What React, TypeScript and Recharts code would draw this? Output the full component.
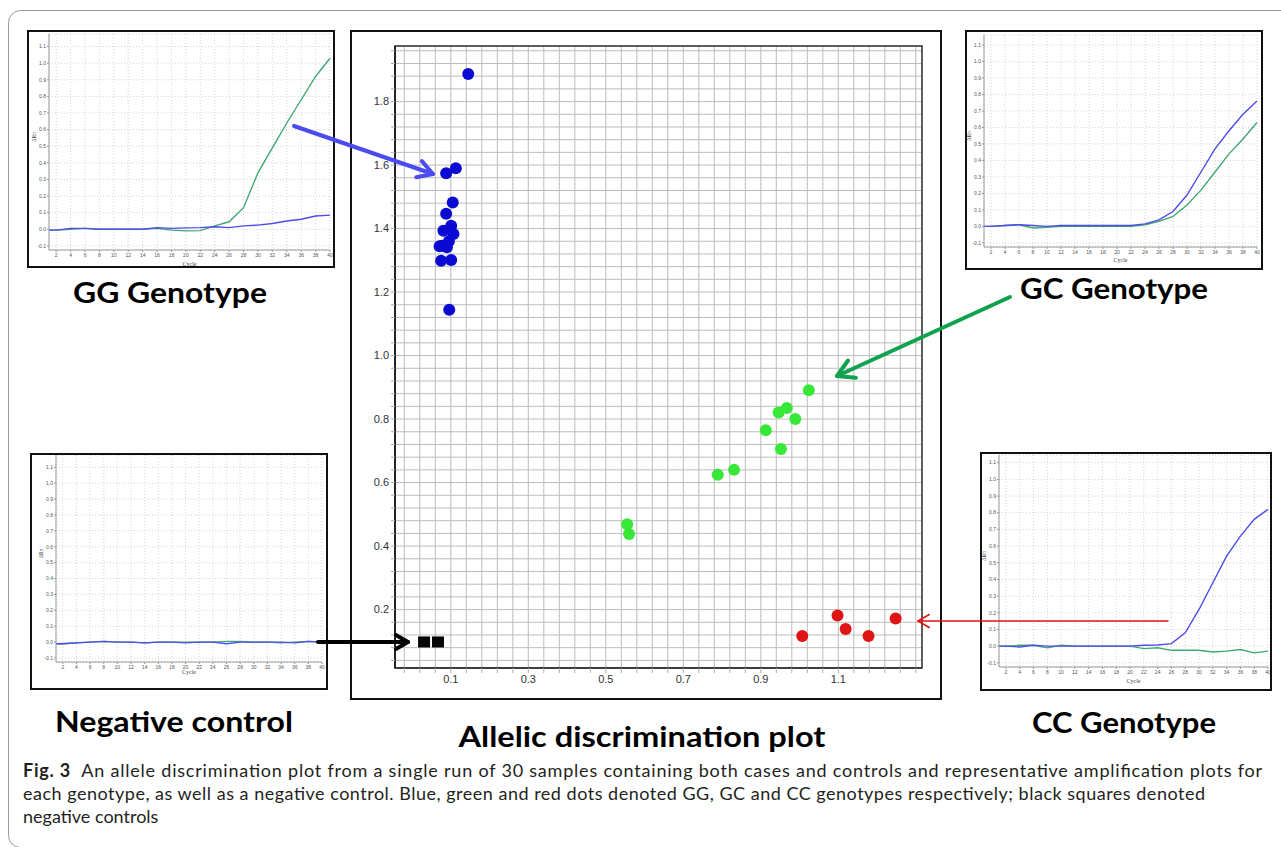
import React from "react";
import {
  ScatterChart,
  Scatter,
  XAxis,
  YAxis,
  CartesianGrid,
  ReferenceArea,
  LineChart,
  Line,
} from "recharts";

// allelic discrimination plot (allele X on x, allele Y on y)
const ggPoints = [
  { x: 0.145, y: 1.887 },
  { x: 0.113, y: 1.59 },
  { x: 0.088, y: 1.574 },
  { x: 0.105, y: 1.482 },
  { x: 0.088, y: 1.447 },
  { x: 0.101, y: 1.409 },
  { x: 0.081, y: 1.393 },
  { x: 0.107, y: 1.383 },
  { x: 0.077, y: 1.346 },
  { x: 0.09, y: 1.341 },
  { x: 0.071, y: 1.344 },
  { x: 0.095, y: 1.36 },
  { x: 0.075, y: 1.299 },
  { x: 0.101, y: 1.301 },
  { x: 0.096, y: 1.144 },
];

const gcPoints = [
  { x: 0.555, y: 0.469 },
  { x: 0.56, y: 0.438 },
  { x: 0.789, y: 0.625 },
  { x: 0.831, y: 0.64 },
  { x: 0.913, y: 0.765 },
  { x: 0.952, y: 0.706 },
  { x: 0.946, y: 0.821 },
  { x: 0.967, y: 0.835 },
  { x: 0.989, y: 0.8 },
  { x: 1.024, y: 0.891 },
];

const ccPoints = [
  { x: 1.007, y: 0.117 },
  { x: 1.098, y: 0.181 },
  { x: 1.119, y: 0.139 },
  { x: 1.178, y: 0.117 },
  { x: 1.248, y: 0.172 },
];

const ntcPoints = [
  { x: 0.031, y: 0.098 },
  { x: 0.067, y: 0.098 },
];

const xLabelTicks = [0.1, 0.3, 0.5, 0.7, 0.9, 1.1];
const yLabelTicks = [0.2, 0.4, 0.6, 0.8, 1.0, 1.2, 1.4, 1.6, 1.8];

// amplification plots (delta Rn per cycle)
const cycles = [1, 2, 4, 6, 8, 10, 12, 14, 16, 18, 20, 22, 24, 26, 28, 30, 32, 34, 36, 38, 40];
const cycleTicks = [2, 4, 6, 8, 10, 12, 14, 16, 18, 20, 22, 24, 26, 28, 30, 32, 34, 36, 38, 40];
const rnTicks = [-0.1, 0, 0.1, 0.2, 0.3, 0.4, 0.5, 0.6, 0.7, 0.8, 0.9, 1.0, 1.1];

const ggBlue = [-0.005, -0.005, 0.005, 0.005, 0, 0, 0, 0, 0.01, 0.005, 0.008, 0.01, 0.015, 0.01, 0.02, 0.025, 0.035, 0.05, 0.06, 0.08, 0.085];
const ggGreen = [-0.005, -0.005, 0, 0.005, 0, 0, 0, 0, 0.005, -0.005, -0.01, -0.008, 0.02, 0.045, 0.13, 0.34, 0.49, 0.64, 0.78, 0.92, 1.03];

const gcBlue = [0, 0, 0.005, 0.01, 0.005, 0, 0.005, 0.005, 0.005, 0.005, 0.005, 0.005, 0.015, 0.04, 0.09, 0.19, 0.33, 0.47, 0.58, 0.68, 0.76];
const gcGreen = [0, 0, 0.005, 0.01, -0.01, -0.005, 0, 0, 0, 0, 0, 0, 0.01, 0.03, 0.06, 0.13, 0.22, 0.33, 0.44, 0.53, 0.63];

const ntcBlue = [-0.01, -0.01, -0.005, 0, 0.005, 0, 0, -0.005, 0, 0, -0.005, 0, 0, -0.01, 0, 0, 0, 0, -0.005, 0.005, 0];
const ntcGreen = [-0.01, -0.01, -0.005, 0, 0.005, 0, 0, -0.005, 0, 0, 0, 0, 0, 0.005, 0.005, 0, 0, -0.005, 0, 0.005, 0];

const ccBlue = [0, 0, -0.005, 0.005, 0, 0, 0, 0, 0, 0, 0, 0.005, 0.007, 0.015, 0.08, 0.22, 0.38, 0.54, 0.66, 0.76, 0.82];
const ccGreen = [0, 0, 0.005, 0.005, -0.01, 0.005, 0, 0, 0, 0, 0, -0.015, -0.01, -0.025, -0.025, -0.025, -0.035, -0.03, -0.02, -0.04, -0.03];

// grid every 0.04 on both axes
const xGrid = Array.from({ length: 34 }, (_, i) => Math.round((-0.02 + 0.04 * i) * 1000) / 1000);
const yGrid = Array.from({ length: 49 }, (_, i) => Math.round((0.04 + 0.04 * i) * 1000) / 1000);

const isLabel = (list: number[], v: number) => list.some((t) => Math.abs(t - v) < 1e-6);

const dot = (color: string) => (p: any) => <circle cx={p.cx} cy={p.cy} r={6} fill={color} />;
const square = (p: any) => <rect x={p.cx - 6} y={p.cy - 5.5} width={12} height={11} fill="#050505" />;

function DiscriminationPlot() {
  return (
    <div
      style={{
        position: "absolute",
        left: 350,
        top: 30,
        width: 588,
        height: 666,
        border: "2px solid #111",
        background: "#fff",
      }}
    >
      <ScatterChart width={588} height={666} margin={{ top: 14, right: 18, bottom: 8, left: 8 }}>
        <CartesianGrid stroke="#bdbdbd" strokeWidth={1} />
        <XAxis
          type="number"
          dataKey="x"
          domain={[-0.044, 1.316]}
          ticks={xGrid}
          interval={0}
          allowDataOverflow
          height={22}
          tickFormatter={(v: number) => (isLabel(xLabelTicks, v) ? v.toFixed(1) : "")}
          tick={{ fontSize: 11, fill: "#333", fontFamily: "Liberation Sans" }}
          tickSize={5}
          tickLine={{ stroke: "#aaa" }}
          axisLine={{ stroke: "#333", strokeWidth: 1.5 }}
        />
        <YAxis
          type="number"
          dataKey="y"
          domain={[0.016, 1.975]}
          ticks={yGrid}
          interval={0}
          allowDataOverflow
          width={35}
          tickFormatter={(v: number) => (isLabel(yLabelTicks, v) ? v.toFixed(1) : "")}
          tick={{ fontSize: 11, fill: "#333", fontFamily: "Liberation Sans" }}
          tickSize={4}
          tickLine={{ stroke: "#aaa" }}
          axisLine={{ stroke: "#222", strokeWidth: 2 }}
        />
        <ReferenceArea x1={-0.044} x2={1.316} y1={0.016} y2={1.975} fill="none" stroke="#333" strokeWidth={1.5} />
        <Scatter data={ggPoints} shape={dot("#0a0ad2")} isAnimationActive={false} />
        <Scatter data={gcPoints} shape={dot("#38e838")} isAnimationActive={false} />
        <Scatter data={ccPoints} shape={dot("#e01414")} isAnimationActive={false} />
        <Scatter data={ntcPoints} shape={square} isAnimationActive={false} />
      </ScatterChart>
    </div>
  );
}

interface AmpProps {
  box: { x: number; y: number; w: number; h: number };
  l: number;
  r: number;
  t: number;
  b: number;
  yTop: number;
  cycleGap: number;
  blue: number[];
  green: number[];
}

function AmpPlot({ box, l, r, t, b, yTop, cycleGap, blue, green }: AmpProps) {
  const cw = box.w - 4;
  const ch = box.h - 4;
  const ox = box.x + 2;
  const oy = box.y + 2;
  const yW = 16;
  const xH = oy + ch - b - 1;
  const margin = { left: l - ox - yW, right: ox + cw - r, top: t - oy, bottom: 1 };
  const data = cycles.map((c, i) => ({ cycle: c, blue: blue[i], green: green[i] }));
  const tick = { fontSize: 5, fill: "#555", fontFamily: "Liberation Sans" };
  return (
    <div
      style={{
        position: "absolute",
        left: box.x,
        top: box.y,
        width: cw,
        height: ch,
        border: "2px solid #111",
        background: "#fff",
      }}
    >
      <LineChart width={cw} height={ch} data={data} margin={margin}>
        <CartesianGrid stroke="#d4d4d4" strokeDasharray="1 2" />
        <XAxis
          dataKey="cycle"
          type="number"
          domain={[1, 40]}
          ticks={cycleTicks}
          interval={0}
          height={xH}
          tick={tick}
          tickSize={2}
          tickMargin={1}
          tickLine={{ stroke: "#999" }}
          axisLine={{ stroke: "#999" }}
          label={{ value: "Cycle", position: "insideBottom", offset: xH - cycleGap - 3, fontSize: 6, fill: "#444" }}
        />
        <YAxis
          type="number"
          domain={[-0.125, yTop]}
          ticks={rnTicks}
          interval={0}
          width={yW}
          tick={tick}
          tickSize={2}
          tickMargin={1}
          tickFormatter={(v: number) => v.toFixed(1)}
          tickLine={{ stroke: "#999" }}
          axisLine={{ stroke: "#999" }}
          label={{ value: "ΔRn", angle: -90, position: "insideLeft", offset: 1, fontSize: 5.5, fill: "#444" }}
        />
        <Line type="linear" dataKey="green" stroke="#3fa874" strokeWidth={1.4} dot={false} isAnimationActive={false} />
        <Line type="linear" dataKey="blue" stroke="#4c4ce8" strokeWidth={1.4} dot={false} isAnimationActive={false} />
      </LineChart>
    </div>
  );
}

function Arrow({ x1, y1, x2, y2, color, width, head }: { x1: number; y1: number; x2: number; y2: number; color: string; width: number; head: number }) {
  const len = Math.hypot(x2 - x1, y2 - y1);
  const ux = (x1 - x2) / len;
  const uy = (y1 - y2) / len;
  const c = Math.cos(Math.PI / 6);
  const s = Math.sin(Math.PI / 6);
  const ax = x2 + head * (ux * c - uy * s);
  const ay = y2 + head * (ux * s + uy * c);
  const bx = x2 + head * (ux * c + uy * s);
  const by = y2 + head * (-ux * s + uy * c);
  return (
    <g stroke={color} strokeWidth={width} fill="none" strokeLinecap="round" strokeLinejoin="round">
      <line x1={x1} y1={y1} x2={x2} y2={y2} />
      <polyline points={`${ax},${ay} ${x2},${y2} ${bx},${by}`} />
    </g>
  );
}

function Title({ x, y, w, text }: { x: number; y: number; w: number; text: string }) {
  return (
    <text
      x={x}
      y={y}
      textAnchor="middle"
      textLength={w}
      lengthAdjust="spacingAndGlyphs"
      fontFamily="Lato"
      fontWeight={700}
      fontSize={29}
      fill="#000"
    >
      {text}
    </text>
  );
}

export default function App() {
  const cap = { fontFamily: "Lato", fontSize: 18, fill: "#231f20" };
  return (
    <div style={{ position: "absolute", left: 0, top: 0, width: 1281, height: 847, overflow: "hidden", background: "#fff" }}>
      <DiscriminationPlot />
      <AmpPlot box={{ x: 27, y: 30, w: 308, h: 238 }} l={49} r={330} t={34} b={250} yTop={1.176} cycleGap={13} blue={ggBlue} green={ggGreen} />
      <AmpPlot box={{ x: 965, y: 30, w: 298, h: 240 }} l={984} r={1257} t={35} b={247} yTop={1.161} cycleGap={11.5} blue={gcBlue} green={gcGreen} />
      <AmpPlot box={{ x: 30, y: 453, w: 298, h: 237 }} l={56} r={322} t={455} b={662} yTop={1.177} cycleGap={9} blue={ntcBlue} green={ntcGreen} />
      <AmpPlot box={{ x: 980, y: 452, w: 292, h: 239 }} l={999} r={1268} t={455} b={667} yTop={1.146} cycleGap={13} blue={ccBlue} green={ccGreen} />
      <svg width={1281} height={847} style={{ position: "absolute", left: 0, top: 0, pointerEvents: "none" }}>
        <rect x={8.5} y={10.5} width={1300} height={837} rx={12} fill="none" stroke="#9a9a9a" strokeWidth={1} />
        <Arrow x1={294} y1={126} x2={433} y2={174} color="#4b4bf0" width={4} head={17} />
        <Arrow x1={1010} y1={297} x2={837} y2={376} color="#11a24f" width={4} head={19} />
        <Arrow x1={318} y1={642} x2={408} y2={642} color="#000" width={4} head={14} />
        <Arrow x1={1168} y1={621} x2={918} y2={621} color="#e81010" width={1.5} head={13} />
        <Title x={170} y={303} w={194} text="GG Genotype" />
        <Title x={1114} y={299} w={188} text="GC Genotype" />
        <Title x={174} y={732} w={238} text="Negative control" />
        <Title x={642} y={747} w={367} text="Allelic discrimination plot" />
        <Title x={1124} y={733} w={184} text="CC Genotype" />
        <text x={23} y={777} textLength={1239} lengthAdjust="spacing" {...cap}>
          <tspan fontWeight={700}>Fig. 3</tspan>
          <tspan>{"\u00a0\u00a0An allele discrimination plot from a single run of 30 samples containing both cases and controls and representative amplification plots for"}</tspan>
        </text>
        <text x={23} y={800} textLength={1182} lengthAdjust="spacing" {...cap}>
          each genotype, as well as a negative control. Blue, green and red dots denoted GG, GC and CC genotypes respectively; black squares denoted
        </text>
        <text x={23} y={823} {...cap}>
          negative controls
        </text>
      </svg>
    </div>
  );
}
